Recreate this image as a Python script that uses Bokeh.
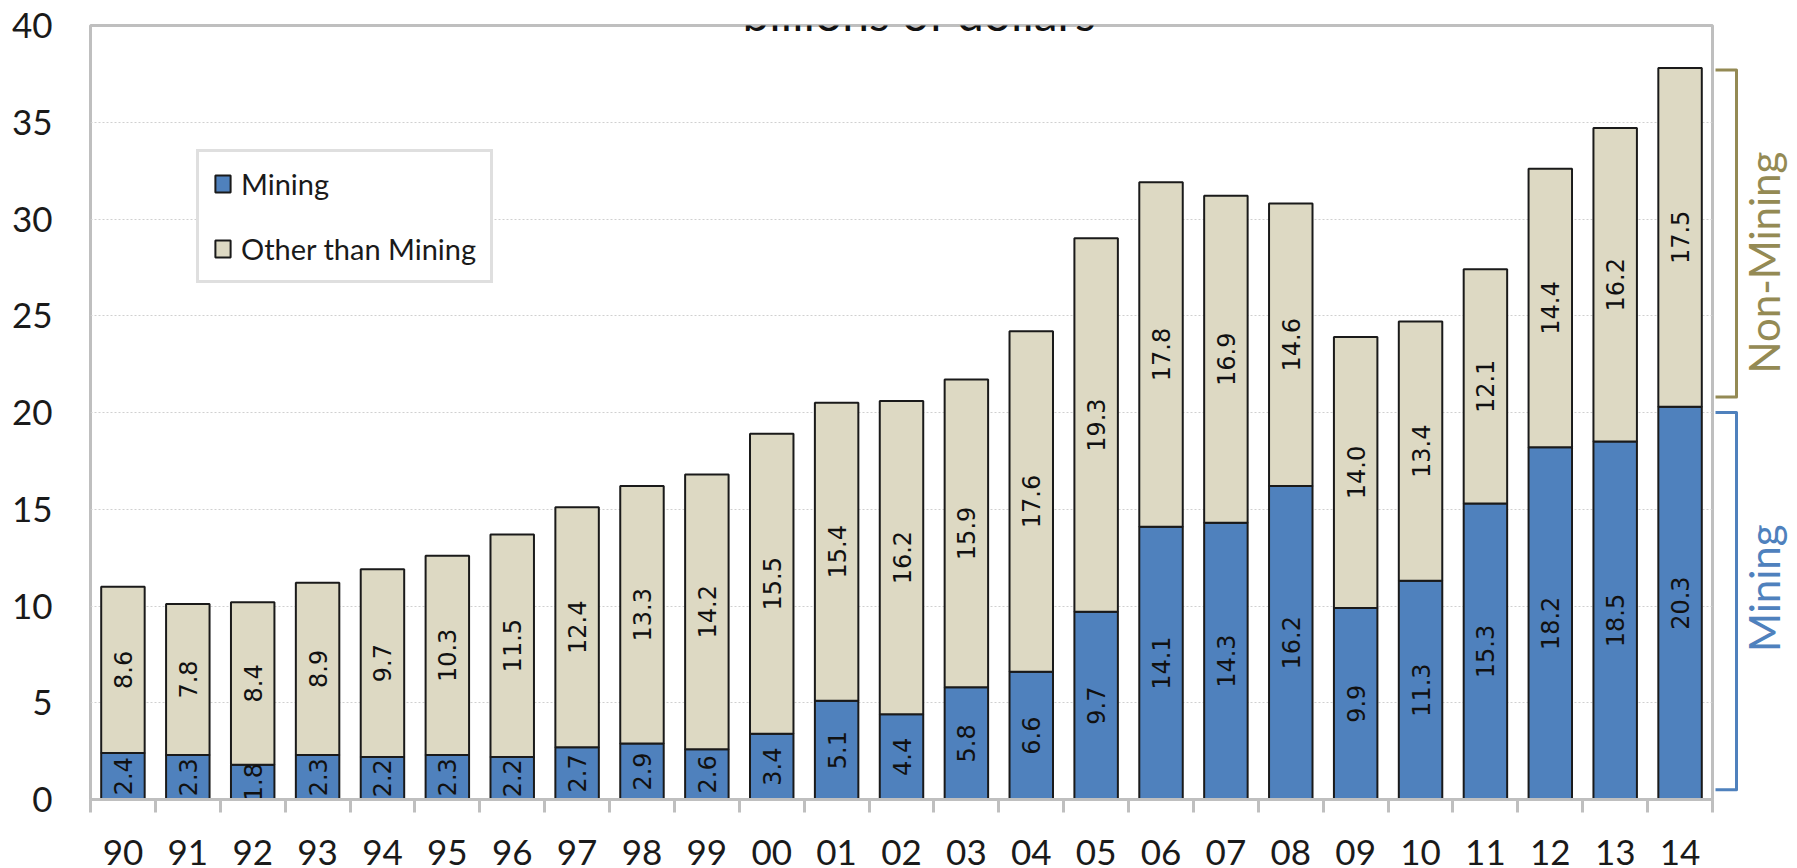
import math
from bokeh.plotting import figure
from bokeh.layouts import row
from bokeh.models import ColumnDataSource, FixedTicker, Legend, LegendItem, Label
from bokeh.core.properties import value
from bokeh.embed import file_html
from bokeh.resources import INLINE

# ---- data ----
years = ["90", "91", "92", "93", "94", "95", "96", "97", "98", "99", "00", "01", "02",
         "03", "04", "05", "06", "07", "08", "09", "10", "11", "12", "13", "14"]
mining = [2.4, 2.3, 1.8, 2.3, 2.2, 2.3, 2.2, 2.7, 2.9, 2.6, 3.4, 5.1, 4.4,
          5.8, 6.6, 9.7, 14.1, 14.3, 16.2, 9.9, 11.3, 15.3, 18.2, 18.5, 20.3]
other = [8.6, 7.8, 8.4, 8.9, 9.7, 10.3, 11.5, 12.4, 13.3, 14.2, 15.5, 15.4, 16.2,
         15.9, 17.6, 19.3, 17.8, 16.9, 14.6, 14.0, 13.4, 12.1, 14.4, 16.2, 17.5]
y_ticks = [0, 5, 10, 15, 20, 25, 30, 35, 40]
series_names = ["Mining", "Other than Mining"]
title_text = "billions of dollars"
bracket_names = ["Non-Mining", "Mining"]

# ---- styling ----
BLUE = "#4F81BD"
TAN = "#DDD9C3"
OLIVE = "#948A54"
GREY = "#BFBFBF"
W, H = 1797, 868
ML, MT, MB = 90, 25, 69
FRAME_W = 1622
W1 = ML + FRAME_W + 2
W2 = W - W1
FONT = "Lato"

n = len(years)
xs = [i + 0.5 for i in range(n)]
total = [m + o for m, o in zip(mining, other)]
src = ColumnDataSource(dict(
    x=xs, year=years, mining=mining, other=other, total=total,
    mid_m=[m / 2 for m in mining],
    mid_o=[m + o / 2 for m, o in zip(mining, other)],
    lab_m=[f"{v:.1f}" for v in mining],
    lab_o=[f"{v:.1f}" for v in other],
))

p = figure(width=W1, height=H, x_range=(0, n), y_range=(0, y_ticks[-1]),
           output_backend="svg", toolbar_location=None,
           min_border_left=ML, min_border_right=2, min_border_top=MT, min_border_bottom=MB)
p.background_fill_color = "white"
p.border_fill_color = "white"
p.outline_line_color = GREY
p.outline_line_width = 3

r_m = p.vbar(x="x", bottom=0, top="mining", width=0.67, source=src,
             fill_color=BLUE, line_color="#1a1a1a", line_width=2)
r_o = p.vbar(x="x", bottom="mining", top="total", width=0.67, source=src,
             fill_color=TAN, line_color="#1a1a1a", line_width=2)

for ycol, tcol in [("mid_m", "lab_m"), ("mid_o", "lab_o")]:
    p.text(x="x", y=ycol, text=tcol, source=src, angle=math.pi / 2,
           text_align="center", text_baseline="middle", text_font=value("DejaVu Sans"),
           text_font_size="24px", text_color="#111111")

# axes
p.xaxis.ticker = FixedTicker(ticks=xs, minor_ticks=list(range(n + 1)))
p.xaxis.major_label_overrides = {x: y for x, y in zip(xs, years)}
p.xaxis.axis_line_color = GREY
p.xaxis.axis_line_width = 3
p.xaxis.major_tick_line_color = None
p.xaxis.major_tick_out = 0
p.xaxis.major_tick_in = 0
p.xaxis.minor_tick_line_color = GREY
p.xaxis.minor_tick_line_width = 3
p.xaxis.minor_tick_out = 13
p.xaxis.minor_tick_in = 0
p.xaxis.major_label_standoff = 27
p.xaxis.major_label_text_font = FONT
p.xaxis.major_label_text_font_size = "35px"
p.xaxis.major_label_text_color = "#1a1a1a"

p.yaxis.ticker = FixedTicker(ticks=y_ticks)
p.yaxis.axis_line_color = None
p.yaxis.major_tick_line_color = None
p.yaxis.minor_tick_line_color = None
p.yaxis.major_tick_out = 0
p.yaxis.major_label_standoff = 38
p.yaxis.major_label_text_font = FONT
p.yaxis.major_label_text_font_size = "35px"
p.yaxis.major_label_text_color = "#1a1a1a"

p.xgrid.grid_line_color = None
p.ygrid.grid_line_color = "#D0D0D0"
p.ygrid.grid_line_dash = "2 2"
p.ygrid.grid_line_width = 1

# legend
legend = Legend(items=[LegendItem(label=series_names[0], renderers=[r_m]),
                       LegendItem(label=series_names[1], renderers=[r_o])],
                location=(106, 516))
legend.label_text_font = FONT
legend.label_text_font_size = "29px"
legend.label_text_color = "#1a1a1a"
legend.glyph_width = 19
legend.glyph_height = 21
legend.label_standoff = 9
legend.spacing = 30
legend.padding = 14
legend.margin = 0
legend.border_line_color = GREY
legend.border_line_width = 3
legend.background_fill_color = "white"
legend.background_fill_alpha = 1
p.add_layout(legend, "center")

# title, partly above the top of the picture as in the reference
ppu = FRAME_W / n
ppy = (H - MT - MB) / y_ticks[-1]
p.add_layout(Label(x=n / 2 + 18 / ppu, y=y_ticks[-1] + 13 / ppy,
                   text=title_text, text_align="center", text_baseline="alphabetic",
                   text_font=FONT, text_font_size="48px", text_color="#111111"))

# right-hand panel with the brackets
p2 = figure(width=W2, height=H, x_range=(0, W2), y_range=p.y_range,
            output_backend="svg", toolbar_location=None,
            x_axis_location=None, y_axis_location=None,
            min_border_left=0, min_border_right=0, min_border_top=MT, min_border_bottom=MB)
p2.outline_line_color = None
p2.grid.grid_line_color = None
p2.background_fill_color = "white"
p2.border_fill_color = "white"

nm_top, nm_bot = max(total) - 0.1, mining[-1] + 0.5
m_top, m_bot = mining[-1] - 0.3, 0.5
bx0, bx1, tx = 1, 22, 49
p2.multi_line(xs=[[bx0, bx1, bx1, bx0], [bx0, bx1, bx1, bx0]],
              ys=[[nm_top, nm_top, nm_bot, nm_bot], [m_top, m_top, m_bot, m_bot]],
              line_color=[OLIVE, BLUE], line_width=3, line_join="round")
p2.text(x=[tx, tx], y=[(nm_top + nm_bot) / 2, (m_top + m_bot) / 2], text=bracket_names,
        angle=math.pi / 2, text_align="center", text_baseline="middle",
        text_font=value(FONT), text_font_size="42px", text_color=[OLIVE, BLUE],
        y_offset=[29, -13])

layout = row(p, p2, spacing=0)
open("out.html", "w").write(file_html(layout, INLINE))
